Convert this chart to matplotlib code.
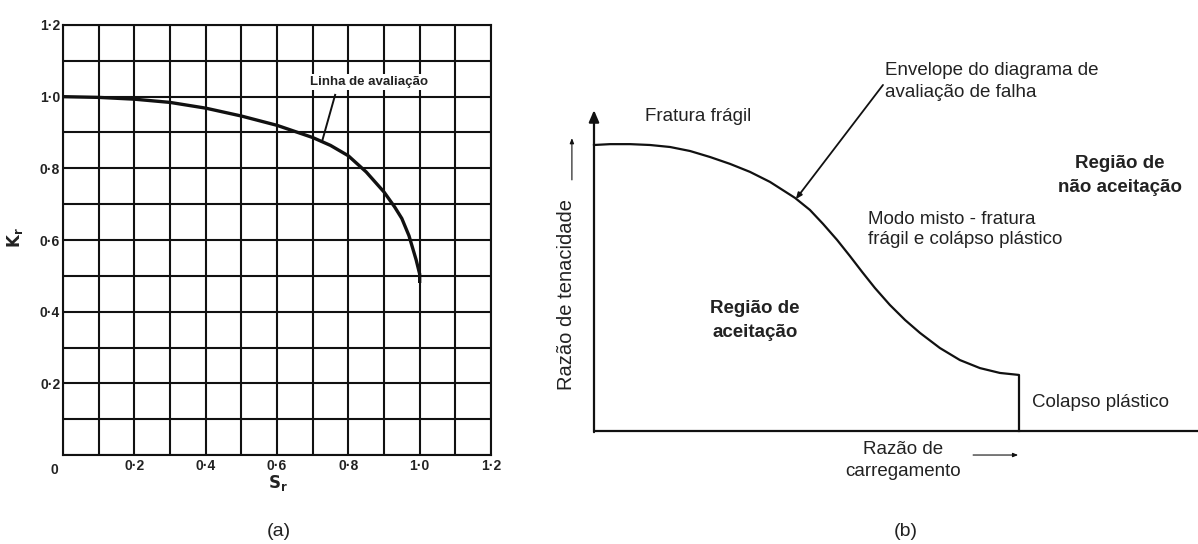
import numpy as np
import matplotlib
matplotlib.use("Agg")
import matplotlib.pyplot as plt

# ---- (a) R6 failure assessment line: Kr versus Sr ----
sr_values = [0.0, 0.1, 0.2, 0.3, 0.4, 0.5, 0.6, 0.7, 0.75, 0.8, 0.85, 0.9,
             0.93, 0.95, 0.97, 0.99, 1.0, 1.0]
kr_values = [1.0, 0.998, 0.993, 0.984, 0.968, 0.946, 0.920, 0.886, 0.864,
             0.835, 0.790, 0.734, 0.692, 0.660, 0.612, 0.545, 0.505, 0.48]
tick_values = [0.2, 0.4, 0.6, 0.8, 1.0, 1.2]
tick_labels = ["0\u00b72", "0\u00b74", "0\u00b76", "0\u00b78", "1\u00b70", "1\u00b72"]

# ---- (b) schematic failure assessment diagram ----
load_ratio = [0.0, 0.038, 0.085, 0.132, 0.179, 0.226, 0.273, 0.320, 0.367,
              0.414, 0.473, 0.508, 0.539, 0.572, 0.602, 0.631, 0.661, 0.696,
              0.732, 0.767, 0.814, 0.861, 0.908, 0.955, 1.0, 1.0]
toughness_ratio = [1.0, 1.003, 1.003, 1.0, 0.993, 0.979, 0.958, 0.934, 0.906,
                   0.871, 0.815, 0.773, 0.724, 0.668, 0.612, 0.556, 0.500, 0.441,
                   0.388, 0.343, 0.290, 0.248, 0.220, 0.203, 0.196, 0.0]

W, H = 1198, 544
fig = plt.figure(figsize=(W / 100, H / 100), dpi=100)
fig.patch.set_facecolor("white")
ink = "#111111"

# ---------------- panel (a) ----------------
ax = fig.add_axes([63 / W, 1 - 455 / H, (491 - 63) / W, (455 - 25) / H])
ax.set_xlim(0, 1.2)
ax.set_ylim(0, 1.2)
grid = np.round(np.arange(0, 1.21, 0.1), 2)
ax.set_xticks(grid, minor=True)
ax.set_yticks(grid, minor=True)
ax.set_xticks(tick_values)
ax.set_yticks(tick_values)
ax.grid(True, which="both", color=ink, lw=1.5)
ax.set_xticklabels(tick_labels)
ax.set_yticklabels(tick_labels)
ax.tick_params(which="both", length=0)
ax.tick_params(axis="x", pad=3)
ax.tick_params(axis="y", pad=2)
for lab in ax.get_xticklabels() + ax.get_yticklabels():
    lab.set_fontsize(10)
    lab.set_fontweight("bold")
    lab.set_fontfamily("Liberation Sans")
    lab.set_color("#222222")
for sp in ax.spines.values():
    sp.set_linewidth(1.5)
    sp.set_color(ink)

ax.plot(sr_values, kr_values, color=ink, lw=2.4, solid_capstyle="butt",
        clip_on=False, zorder=5)

ax.text(-0.012, -0.022, "0", ha="right", va="top", fontsize=10,
        fontweight="bold", family="Liberation Sans", color="#222222")
ax.text(0.692, 1.041, "Linha de avalia\u00e7\u00e3o", ha="left", va="center",
        fontsize=9.5, fontweight="bold", family="Liberation Sans", color="#222222",
        zorder=7, bbox=dict(boxstyle="square,pad=0.15", fc="white", ec="none"))
ax.plot([0.763, 0.726], [1.005, 0.874], color=ink, lw=1.4, zorder=6)

fig.text(15 / W, 1 - 238 / H, r"$\mathbf{K_r}$", rotation=90, ha="center",
         va="center", fontsize=12, color="#222222")
fig.text(278 / W, 1 - 483 / H, r"$\mathbf{S_r}$", ha="center", va="center",
         fontsize=12, color="#222222")
fig.text(279 / W, 1 - 532 / H, "(a)", ha="center", va="center", fontsize=14,
         family="Liberation Sans", color="#222222")

# ---------------- panel (b) ----------------
bx = fig.add_axes([540 / W, 0, (W - 540) / W, 1])
bx.set_xlim((540 - 594) / 425, (W - 594) / 425)
bx.set_ylim((431 - 544) / 286, 431 / 286)
bx.axis("off")

# axes of the diagram
bx.plot([0, 1.45], [0, 0], color=ink, lw=1.6, solid_capstyle="butt")
bx.annotate("", xy=(0, 1.122), xytext=(0, -0.004),
            arrowprops=dict(arrowstyle="-|>,head_length=0.7,head_width=0.3",
                            color=ink, lw=1.6, shrinkA=0, shrinkB=0))

# envelope curve with the plastic collapse cut-off
bx.plot(load_ratio, toughness_ratio, color=ink, lw=1.6, solid_joinstyle="round")

tf = dict(family="Liberation Sans", color="#222222")
bx.text(0.12, 1.098, "Fratura fr\u00e1gil", ha="left", va="center", fontsize=13.5, **tf)
bx.text(0.685, 1.262, "Envelope do diagrama de", ha="left", va="center", fontsize=13.5, **tf)
bx.text(0.685, 1.185, "avalia\u00e7\u00e3o de falha", ha="left", va="center", fontsize=13.5, **tf)
bx.annotate("", xy=(0.475, 0.811), xytext=(0.680, 1.210),
            arrowprops=dict(arrowstyle="-|>,head_length=0.35,head_width=0.15",
                            color=ink, lw=1.3, shrinkA=0, shrinkB=0))
bx.text(1.238, 0.934, "Regi\u00e3o de", ha="center", va="center", fontsize=13.5,
        fontweight="bold", **tf)
bx.text(1.238, 0.850, "n\u00e3o aceita\u00e7\u00e3o", ha="center", va="center", fontsize=13.5,
        fontweight="bold", **tf)
bx.text(0.645, 0.741, "Modo misto - fratura", ha="left", va="center", fontsize=13.5, **tf)
bx.text(0.645, 0.668, "fr\u00e1gil e col\u00e1pso pl\u00e1stico", ha="left", va="center",
        fontsize=13.5, **tf)
bx.text(0.379, 0.430, "Regi\u00e3o de", ha="center", va="center", fontsize=13.5,
        fontweight="bold", **tf)
bx.text(0.379, 0.346, "aceita\u00e7\u00e3o", ha="center", va="center", fontsize=13.5,
        fontweight="bold", **tf)
bx.text(1.031, 0.101, "Colapso pl\u00e1stico", ha="left", va="center", fontsize=13.5, **tf)
bx.text(0.727, -0.063, "Raz\u00e3o de", ha="center", va="center", fontsize=13.5, **tf)
bx.text(0.727, -0.140, "carregamento", ha="center", va="center", fontsize=13.5, **tf)
bx.annotate("", xy=(0.998, -0.084), xytext=(0.892, -0.084),
            arrowprops=dict(arrowstyle="-|>,head_length=0.3,head_width=0.12",
                            color=ink, lw=0.8, shrinkA=0, shrinkB=0))
bx.text(-0.064, 0.476, "Raz\u00e3o de tenacidade", rotation=90, ha="center", va="center",
        fontsize=14.5, **tf)
bx.annotate("", xy=(-0.052, 1.024), xytext=(-0.052, 0.878),
            arrowprops=dict(arrowstyle="-|>,head_length=0.3,head_width=0.12",
                            color=ink, lw=0.8, shrinkA=0, shrinkB=0))
bx.text(0.734, -0.353, "(b)", ha="center", va="center", fontsize=14, **tf)

fig.savefig("out.png", dpi=100, facecolor="white")
